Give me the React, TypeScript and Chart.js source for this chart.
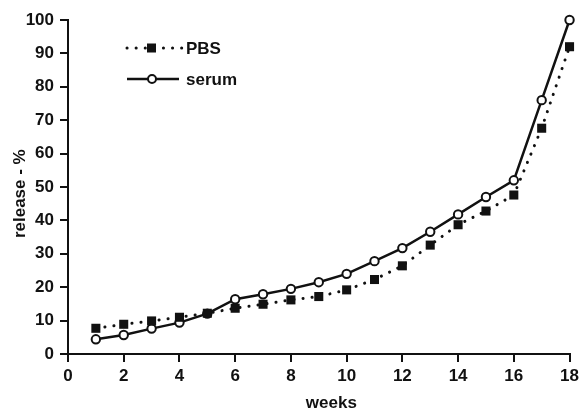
import { useEffect, useRef } from "react";
import { Chart, registerables } from "chart.js";

Chart.register(...registerables);

const weeks = [1, 2, 3, 4, 5, 6, 7, 8, 9, 10, 11, 12, 13, 14, 15, 16, 17, 18];
const pbsValues = [7.7, 8.9, 9.9, 11.0, 12.2, 13.7, 14.9, 16.2, 17.2, 19.2, 22.3, 26.4, 32.6, 38.7, 42.8, 47.6, 67.6, 92.0];
const serumValues = [4.4, 5.7, 7.6, 9.4, 12.1, 16.4, 17.9, 19.5, 21.5, 24.0, 27.8, 31.7, 36.6, 41.8, 47.0, 52.0, 76.0, 100.0];
const xTitle = "weeks";
const yTitle = "release - %";
const seriesNames = ["PBS", "serum"];

const FONT = "'Liberation Sans', Arial, sans-serif";
const WEIGHT = "bold";

const overlayPlugin = {
  id: "overlay",
  afterDraw(chart: any) {
    const ctx = chart.ctx;
    const area = chart.chartArea;
    ctx.save();
    ctx.fillStyle = "#111";
    ctx.font = `${WEIGHT} 17px ${FONT}`;
    ctx.textBaseline = "alphabetic";
    ctx.textAlign = "center";
    // x title
    ctx.fillText(xTitle, area.left + (area.right - area.left) * 0.525, 408);
    // y title
    ctx.save();
    ctx.translate(25, area.top + (area.bottom - area.top) * 0.52);
    ctx.rotate(-Math.PI / 2);
    ctx.fillText(yTitle, 0, 0);
    ctx.restore();

    // legend
    const lx = area.left + 59;
    const ly1 = area.top + 28;
    const ly2 = area.top + 59;
    // PBS
    ctx.strokeStyle = "#111";
    ctx.lineWidth = 3;
    ctx.lineCap = "round";
    ctx.setLineDash([0.1, 9]);
    ctx.beginPath();
    ctx.moveTo(lx, ly1);
    ctx.lineTo(lx + 56, ly1);
    ctx.stroke();
    ctx.setLineDash([]);
    ctx.fillRect(lx + 20, ly1 - 4.5, 9, 9);
    ctx.textAlign = "left";
    ctx.textBaseline = "middle";
    ctx.fillText(seriesNames[0], lx + 59, ly1 + 1);
    // serum
    ctx.lineWidth = 2.5;
    ctx.lineCap = "butt";
    ctx.beginPath();
    ctx.moveTo(lx, ly2);
    ctx.lineTo(lx + 52, ly2);
    ctx.stroke();
    ctx.beginPath();
    ctx.arc(lx + 25, ly2, 4, 0, Math.PI * 2);
    ctx.fillStyle = "#fff";
    ctx.fill();
    ctx.lineWidth = 2;
    ctx.stroke();
    ctx.fillStyle = "#111";
    ctx.fillText(seriesNames[1], lx + 59, ly2 + 1);
    ctx.restore();
  },
};

export default function App() {
  const ref = useRef<HTMLCanvasElement>(null);
  useEffect(() => {
    document.body.style.margin = "0";
    const chart = new Chart(ref.current!, {
      type: "line",
      data: {
        datasets: [
          {
            label: seriesNames[0],
            data: weeks.map((w, i) => ({ x: w, y: pbsValues[i] })),
            borderColor: "#111",
            backgroundColor: "#111",
            borderWidth: 3,
            borderDash: [0.1, 9],
            borderCapStyle: "round",
            pointStyle: "rect",
            pointRadius: 6.4,
            pointBorderWidth: 0,
            pointBackgroundColor: "#111",
            tension: 0,
            clip: false,
          },
          {
            label: seriesNames[1],
            data: weeks.map((w, i) => ({ x: w, y: serumValues[i] })),
            borderColor: "#111",
            backgroundColor: "#fff",
            borderWidth: 2.5,
            pointStyle: "circle",
            pointRadius: 4.2,
            pointBorderWidth: 2,
            pointBackgroundColor: "#fff",
            pointBorderColor: "#111",
            tension: 0,
            clip: false,
          },
        ],
      },
      options: {
        animation: false,
        responsive: false,
        layout: { padding: { top: 20, right: 9, left: 0, bottom: 0 } },
        plugins: { legend: { display: false }, tooltip: { enabled: false } },
        scales: {
          x: {
            type: "linear",
            min: 0,
            max: 18,
            afterFit: (s: any) => { s.height = 55; },
            grid: { drawOnChartArea: false, tickLength: 8, color: "#111", lineWidth: 2 },
            border: { color: "#111", width: 2 },
            ticks: { stepSize: 2, color: "#111", font: { family: FONT, size: 17, weight: WEIGHT }, padding: 4, maxRotation: 0 },
          },
          y: {
            min: 0,
            max: 100,
            afterFit: (s: any) => { s.width = 68; },
            grid: { drawOnChartArea: false, tickLength: 8, color: "#111", lineWidth: 2 },
            border: { color: "#111", width: 2 },
            ticks: { stepSize: 10, color: "#111", font: { family: FONT, size: 17, weight: WEIGHT }, padding: 6 },
          },
        },
      },
      plugins: [overlayPlugin],
    });
    return () => chart.destroy();
  }, []);
  return <canvas ref={ref} width={583} height={409} style={{ display: "block" }} />;
}
